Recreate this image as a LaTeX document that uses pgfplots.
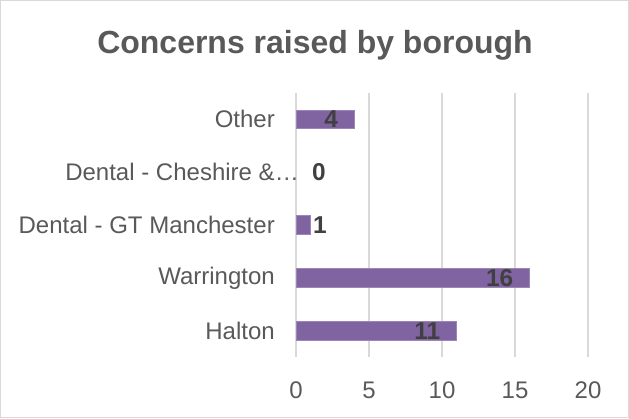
\documentclass[border=0pt]{standalone}
\usepackage{pgfplots}
\pgfplotsset{compat=1.18}
\usepackage{fontspec}
\setmainfont{Liberation Sans}
\definecolor{txt}{HTML}{595959}
\definecolor{lbl}{HTML}{404040}
\definecolor{barfill}{HTML}{8064A2}
\definecolor{baredge}{HTML}{9C86B8}
\definecolor{gridc}{HTML}{D9D9D9}
\begin{document}
\begin{tikzpicture}[x=1bp,y=1bp]
\useasboundingbox (0,0) rectangle (629,418);
\draw[gridc, line width=1.2bp] (0.6,0.6) rectangle (628.4,417.4);
\node[text=txt, font=\bfseries\fontsize{32.1}{36}\selectfont] at (315,373) {Concerns raised by borough};
\begin{axis}[
  at={(296bp,61bp)}, anchor=south west,
  scale only axis, width=292bp, height=264bp,
  xmin=0, xmax=20, ymin=-0.5, ymax=4.5,
  xtick={0,5,10,15,20},
  ytick={0,1,2,3,4},
  yticklabels={Halton,Warrington,Dental - GT Manchester,{Dental - Cheshire \&\rlap{…}},Other},
  /pgf/number format/assume math mode=true,
  tick label style={text=txt, font=\fontsize{24.1}{27}\selectfont, inner sep=0pt},
  xticklabel style={anchor=base, yshift=-41bp},
  yticklabel style={anchor=east, xshift=-21bp},
  major tick length=0pt,
  axis line style={draw=none},
  xmajorgrids, ymajorgrids=false,
  major grid style={gridc, line width=1.3bp},
  xbar, bar width=18.7bp, bar shift=0pt,
  nodes near coords,
  point meta=x,
  every node near coord/.append style={text=lbl, font=\bfseries\fontsize{24.5}{27}\selectfont, inner sep=0pt},
]
\addplot[fill=barfill, draw=baredge, line width=0.8bp,
  nodes near coords style={anchor=east, xshift=-16bp}]
  coordinates {(11,0) (16,1) (4,4)};
\addplot[fill=barfill, draw=baredge, line width=0.8bp,
  nodes near coords style={anchor=west, xshift=2bp}]
  coordinates {(1,2)};
\addplot[fill=none, draw=none,
  nodes near coords style={anchor=west, xshift=16bp}]
  coordinates {(0,3)};
\end{axis}
\end{tikzpicture}
\end{document}
